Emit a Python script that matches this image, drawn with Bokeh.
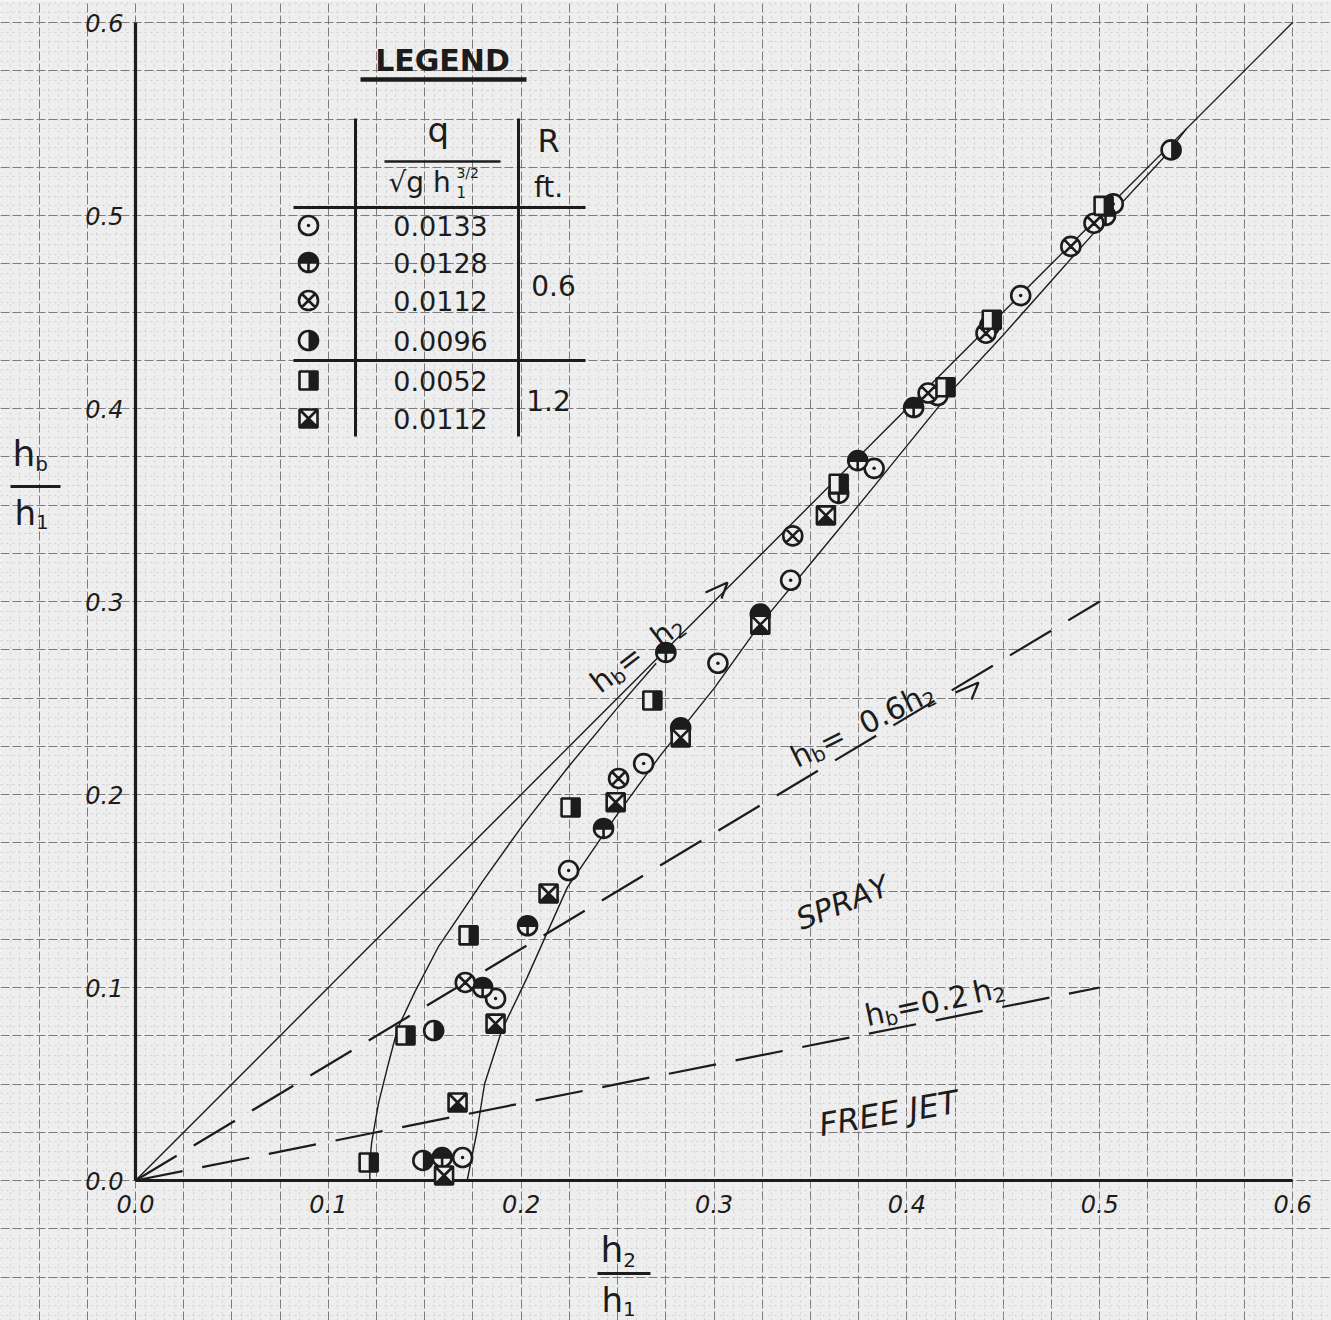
import math
from bokeh.plotting import figure
from bokeh.models import Range1d, Grid, SingleIntervalTicker
from bokeh.core.properties import value
from bokeh.embed import file_html
from bokeh.resources import INLINE

# ---------------- data ----------------
tick_values = [0.0, 0.1, 0.2, 0.3, 0.4, 0.5, 0.6]
tick_labels = ["0.0", "0.1", "0.2", "0.3", "0.4", "0.5", "0.6"]

# R = 0.6 ft
q0133_x = [0.1696, 0.1867, 0.2246, 0.2635, 0.3020, 0.3397, 0.3830, 0.4160, 0.4590, 0.5070]
q0133_y = [0.0119, 0.0943, 0.1606, 0.2160, 0.2680, 0.3110, 0.3690, 0.4067, 0.4585, 0.5060]
q0128_x = [0.1590, 0.1800, 0.2033, 0.2427, 0.2750, 0.2827, 0.3240, 0.3646, 0.3745, 0.4035, 0.4430, 0.5030]
q0128_y = [0.0119, 0.1000, 0.1320, 0.1824, 0.2736, 0.2345, 0.2935, 0.3560, 0.3730, 0.4005, 0.4430, 0.5000]
q0112_x = [0.1710, 0.2505, 0.3408, 0.4110, 0.4410, 0.4850, 0.4970]
q0112_y = [0.1026, 0.2083, 0.3340, 0.4080, 0.4390, 0.4840, 0.4960]
q0096_x = [0.1490, 0.1546, 0.5370]
q0096_y = [0.0104, 0.0777, 0.5340]
# R = 1.2 ft
r12_q0052_x = [0.1209, 0.1400, 0.1727, 0.2256, 0.2680, 0.3646, 0.4200, 0.4440, 0.5020]
r12_q0052_y = [0.0093, 0.0751, 0.1270, 0.1933, 0.2487, 0.3610, 0.4110, 0.4460, 0.5050]
r12_q0112_x = [0.1600, 0.1670, 0.1867, 0.2142, 0.2490, 0.2827, 0.3240, 0.3580]
r12_q0112_y = [0.0026, 0.0404, 0.0813, 0.1487, 0.1960, 0.2295, 0.2880, 0.3446]

# faired curves through the data
curve_a_x = [0.1215, 0.1215, 0.1225, 0.1260, 0.1310, 0.1360, 0.1450, 0.1570, 0.1800, 0.2000, 0.2250, 0.2500, 0.2700]
curve_a_y = [0.0000, 0.0100, 0.0200, 0.0400, 0.0600, 0.0790, 0.0980, 0.1210, 0.1550, 0.1830, 0.2150, 0.2450, 0.2680]
curve_b_x = [0.1720, 0.1740, 0.1770, 0.1810, 0.1900, 0.2030, 0.2240, 0.2500, 0.2720, 0.3000, 0.3230, 0.3520, 0.3800, 0.4230, 0.4490, 0.4970, 0.5350, 0.5450]
curve_b_y = [0.0000, 0.0100, 0.0250, 0.0500, 0.0780, 0.1050, 0.1520, 0.1900, 0.2200, 0.2550, 0.2870, 0.3220, 0.3560, 0.4090, 0.4370, 0.4910, 0.5320, 0.5450]

# reference lines h_b = k * h_2
ref_slopes = [1.0, 0.6, 0.2]
ref_x_end = [0.6, 0.5, 0.5]

legend_q_labels = ["0.0133", "0.0128", "0.0112", "0.0096", "0.0052", "0.0112"]
legend_R_labels = ["0.6", "1.2"]

# ---------------- layout ----------------
W, H = 1331, 1320
PXU = 1928.5
PYU = 1930.0
X0 = -135 / PXU
X1 = X0 + W / PXU
Y1 = 1180 / PYU
Y0 = Y1 - H / PYU


def P(px, py):
    return (px - 135) / PXU, (1180 - py) / PYU


INK = "#1c1c1c"
PAPER = "#eeeeee"
FONT = "DejaVu Sans"
MS = 19
SQ = 18
LW = 2.6
KB = 0.36  # alphabetic baseline correction (fraction of font size)

p = figure(width=W, height=H, x_range=Range1d(X0, X1), y_range=Range1d(Y0, Y1),
           x_axis_type=None, y_axis_type=None, toolbar_location=None,
           output_backend="svg", min_border=0,
           background_fill_color=PAPER, border_fill_color=PAPER,
           outline_line_color=None)

for dim in (0, 1):
    p.add_layout(Grid(dimension=dim,
                      ticker=SingleIntervalTicker(interval=0.025, num_minor_ticks=5),
                      grid_line_color="#7c7c7c", grid_line_width=1, grid_line_dash="9 3",
                      minor_grid_line_color="#d0d0d0", minor_grid_line_width=1,
                      minor_grid_line_dash="2 4"))

# axes
top = max(tick_values)
p.segment(x0=[0, 0], y0=[0, 0], x1=[0, top], y1=[top, 0], line_width=3.2, line_color=INK)

# reference lines
for k, xe in zip(ref_slopes, ref_x_end):
    if k == 1.0:
        p.line([0, xe], [0, k * xe], line_width=1.4, line_color=INK)
    else:
        p.line([0, xe], [0, k * xe], line_width=2.2, line_color=INK, line_dash="48 20")

p.line(curve_a_x, curve_a_y, line_width=1.4, line_color=INK)
p.line(curve_b_x, curve_b_y, line_width=1.4, line_color=INK)


# ---------------- marker styles ----------------
def mk_open_dot(xs, ys):
    p.scatter(xs, ys, marker="circle", size=MS, fill_color=PAPER, line_color=INK, line_width=LW)
    p.scatter(xs, ys, marker="circle", size=3.5, fill_color=INK, line_color=None)


def mk_top_half(xs, ys):
    p.scatter(xs, ys, marker="circle_cross", size=MS, fill_color=PAPER, line_color=INK, line_width=LW)
    p.wedge(xs, ys, radius=MS / 2 + 0.5, radius_units="screen", start_angle=0, end_angle=math.pi,
            fill_color=INK, line_color=None)


def mk_crossed(xs, ys):
    p.scatter(xs, ys, marker="circle_x", size=MS, fill_color=PAPER, line_color=INK, line_width=LW)


def mk_right_half(xs, ys):
    p.scatter(xs, ys, marker="circle", size=MS, fill_color=PAPER, line_color=INK, line_width=LW)
    p.wedge(xs, ys, radius=MS / 2 + 0.5, radius_units="screen", start_angle=-math.pi / 2,
            end_angle=math.pi / 2, fill_color=INK, line_color=None)


def mk_half_square(xs, ys):
    p.scatter(xs, ys, marker="square", size=SQ, fill_color=PAPER, line_color=INK, line_width=LW)
    xr = [x + (SQ / 4) / PXU for x in xs]
    p.rect(xr, ys, width=SQ / 2, height=SQ, width_units="screen", height_units="screen",
           fill_color=INK, line_color=None)


def mk_x_square(xs, ys):
    p.scatter(xs, ys, marker="square_x", size=SQ, fill_color=PAPER, line_color=INK, line_width=LW)
    hx = (SQ / 2) / PXU
    hy = (SQ / 2) / PYU
    p.patches([[x - hx, x + hx, x] for x in xs], [[y - hy, y - hy, y] for y in ys],
              fill_color=INK, line_color=None)


series = [
    (mk_open_dot, q0133_x, q0133_y),
    (mk_top_half, q0128_x, q0128_y),
    (mk_crossed, q0112_x, q0112_y),
    (mk_right_half, q0096_x, q0096_y),
    (mk_half_square, r12_q0052_x, r12_q0052_y),
    (mk_x_square, r12_q0112_x, r12_q0112_y),
]
for fn, xs, ys in series:
    fn(xs, ys)

# ---------------- text helpers ----------------
EM = {"h": 0.634, "b": 0.635, "=": 0.838, ".": 0.318, " ": 0.318, "q": 0.635, "g": 0.635,
      "√": 0.838}


def tw(s, size):
    return sum(EM.get(c, 0.636) for c in s) * size


def txt(px, py, s, size, angle=0.0, align="center", style="normal"):
    """text centred (vertically) at px, py"""
    x, y = P(px, py)
    p.text(x=[x], y=[y], text=[s], angle=angle, text_font=value(FONT),
           text_font_size=f"{size}px", text_font_style=style, text_color=INK,
           text_align=align, text_baseline="middle")


def rich(pieces, px, py, angle=0.0, style="normal"):
    """pieces: (string, size, shift_down_px) laid along a (rotated) baseline at px, py"""
    x0, y0 = P(px, py)
    c, s = math.cos(angle), math.sin(angle)
    adv = 0.0
    for (t, size, shift) in pieces:
        sh = shift - KB * size
        dx = adv * c + sh * s
        dy = adv * s - sh * c
        p.text(x=[x0 + dx / PXU], y=[y0 + dy / PYU], text=[t], angle=angle,
               text_font=value(FONT), text_font_size=f"{size}px", text_font_style=style,
               text_color=INK, text_align="left", text_baseline="alphabetic")
        adv += tw(t, size)
    return adv


def stroke(points_px, width=2.2):
    pts = [P(a, b) for a, b in points_px]
    p.line([q[0] for q in pts], [q[1] for q in pts], line_width=width, line_color=INK)


# tick labels
p.text(x=tick_values, y=[P(0, 1203)[1]] * len(tick_values), text=tick_labels,
       text_font=value(FONT), text_font_size="24px", text_font_style="italic",
       text_color=INK, text_align="center", text_baseline="middle")
p.text(x=[P(123, 0)[0]] * len(tick_values), y=tick_values, text=tick_labels,
       text_font=value(FONT), text_font_size="24px", text_font_style="italic",
       text_color=INK, text_align="right", text_baseline="middle")

# axis labels (fractions)
rich([("h", 36, 0), ("b", 20, 5)], 12, 466)
p.line([P(10, 0)[0], P(60, 0)[0]], [P(0, 486)[1]] * 2, line_width=3, line_color=INK)
rich([("h", 34, 0), ("1", 20, 4)], 14, 525)

rich([("h", 36, 0), ("2", 20, 5)], 600, 1262)
p.line([P(597, 0)[0], P(650, 0)[0]], [P(0, 1273)[1]] * 2, line_width=3, line_color=INK)
rich([("h", 34, 0), ("1", 20, 4)], 601, 1312)

# ---------------- legend table ----------------
txt(442, 60, "LEGEND", 30, style="bold")
p.line([P(360, 0)[0], P(526, 0)[0]], [P(0, 79)[1]] * 2, line_width=4.5, line_color=INK)

vx1, _ = P(355, 0)
vx2, _ = P(518, 0)
_, vt = P(0, 118)
_, vb = P(0, 436)
hx0, _ = P(293, 0)
hx1, _ = P(585, 0)
_, hy1 = P(0, 207)
_, hy2 = P(0, 360)
p.segment(x0=[vx1, vx2, hx0, hx0], y0=[vt, vt, hy1, hy2],
          x1=[vx1, vx2, hx1, hx1], y1=[vb, vb, hy1, hy2], line_width=3, line_color=INK)

rich([("q", 34, 0)], 427, 142)
p.line([P(384, 0)[0], P(500, 0)[0]], [P(0, 161)[1]] * 2, line_width=2.5, line_color=INK)
end = rich([("√g h", 28, 0)], 388, 192)
rich([("1", 15, 5)], 388 + end, 192)
rich([("3/2", 14, -14)], 388 + end, 192)
txt(548, 140, "R", 32)
txt(548, 187, "ft.", 28)

rows_py = [225, 262, 300, 340, 380, 418]
lx, _ = P(308, 0)
marker_fns = [s[0] for s in series]
for fn, ry, lab in zip(marker_fns, rows_py, legend_q_labels):
    yy = P(0, ry)[1]
    fn([lx], [yy])
    txt(440, ry, lab, 27)
txt(553, 285, legend_R_labels[0], 28)
txt(548, 400, legend_R_labels[1], 28)

# ---------------- line and region annotations ----------------
rich([("h", 30, 0), ("b", 20, 4), (" = ", 30, 0), ("h", 30, 0), ("2", 20, 4)], 600, 694, angle=0.65)
stroke([(705, 592), (727, 582), (721, 598)])
rich([("h", 30, 0), ("b", 20, 4), (" = ", 30, 0), ("0.6", 30, 0), ("h", 30, 0), ("2", 20, 4)],
     797, 768, angle=0.46)
stroke([(955, 692), (978, 682), (971, 699)])
rich([("h", 30, 0), ("b", 20, 4), ("=", 30, 0), ("0.2", 30, 0), (" ", 18, 0), ("h", 30, 0), ("2", 20, 4)],
     867, 1026, angle=0.21)
txt(842, 902, "SPRAY", 30, angle=0.38, style="italic")
txt(888, 1113, "FREE JET", 32, angle=0.17, style="italic")

open("out.html", "w").write(file_html(p, INLINE))
